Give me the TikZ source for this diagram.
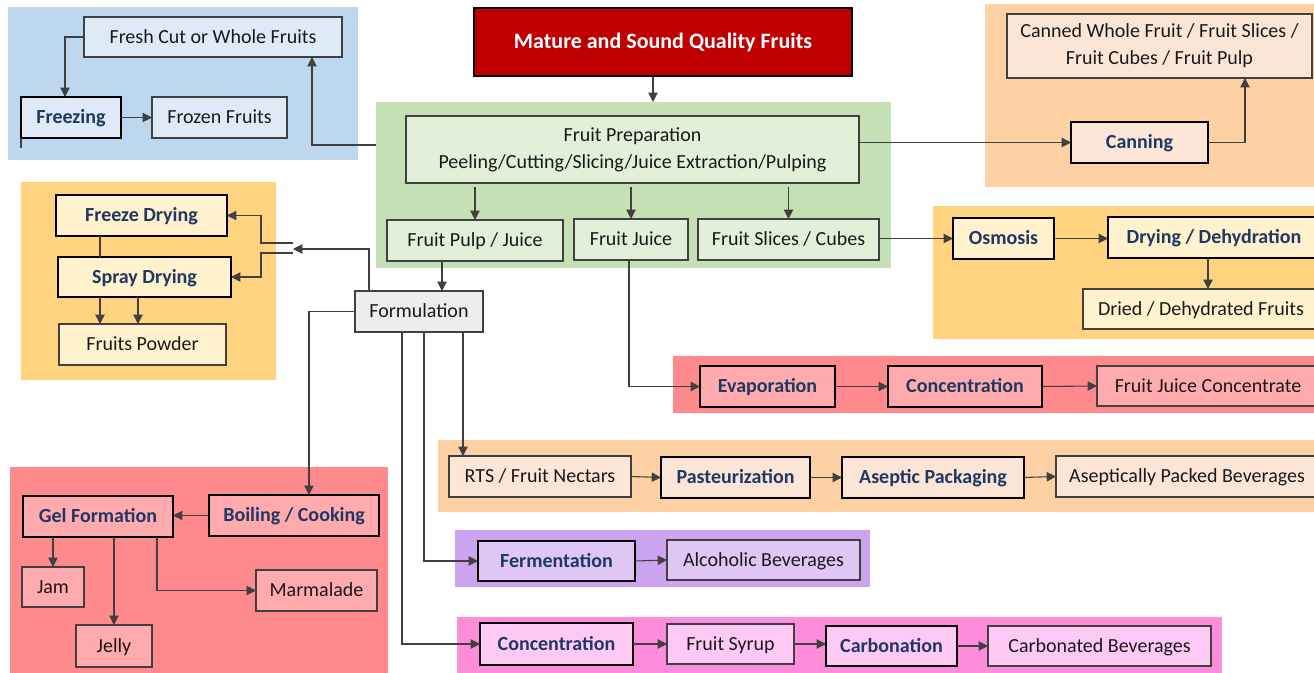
\documentclass[tikz,border=0pt]{standalone}
\usepackage{fontspec}
\setmainfont{Carlito}
\usetikzlibrary{arrows.meta}

% palette
\definecolor{panelBlue}{HTML}{BDD7EE}
\definecolor{boxBlue}{HTML}{DEEBF7}
\definecolor{panelGreen}{HTML}{C5E0B4}
\definecolor{boxGreen}{HTML}{E2F0D9}
\definecolor{panelPeach}{HTML}{FDD1A3}
\definecolor{boxPeach}{HTML}{FBE5D6}
\definecolor{panelGold}{HTML}{FFD37F}
\definecolor{boxGold}{HTML}{FFF2CC}
\definecolor{panelRed}{HTML}{FF8A8D}
\definecolor{boxRed}{HTML}{FFABAD}
\definecolor{panelPurple}{HTML}{CCA3EE}
\definecolor{boxPurple}{HTML}{DFC6F5}
\definecolor{panelPink}{HTML}{FF8CDB}
\definecolor{boxPink}{HTML}{FFC9F5}
\definecolor{boxGrey}{HTML}{EDEDED}
\definecolor{navy}{HTML}{1F3864}
\definecolor{darkRed}{HTML}{C00000}
\definecolor{lineGrey}{HTML}{404040}

\tikzset{
  % a rectangle given by its corners (x1,y1) and (x2,y2), in drawing units
  span/.style n args={4}{
    at={({(#1+#3)/2},{(#2+#4)/2})},
    minimum width={(#3-#1)*0.75pt},
    minimum height={(#4-#2)*0.75pt}},
  panel/.style={rectangle, fill=#1, draw=none, inner sep=0pt, outer sep=0pt},
  oneline/.style={text height=12pt, text depth=2.3pt},
  plain/.style={rectangle, fill=#1, draw=lineGrey, line width=0.8pt, inner sep=0pt, outer sep=0pt,
    align=center, text=black!90, font=\fontsize{15}{20}\selectfont, oneline},
  twoline/.style={plain=#1, text height={}, text depth={}},
  stage/.style={rectangle, fill=#1, draw=black, line width=1.5pt, inner sep=0pt, outer sep=0pt,
    align=center, text=navy, font=\fontsize{15}{20}\selectfont\bfseries, oneline},
  flow/.style={draw=lineGrey, line width=0.8pt, -{Triangle[length=7pt,width=7pt]}},
  link/.style={draw=lineGrey, line width=0.8pt},
}

\begin{document}
\begin{tikzpicture}[x=0.75pt,y=-0.75pt]
\useasboundingbox (0,0) rectangle (1314,673);
\clip (0,0) rectangle (1314,673);

% ---------- coloured group panels ----------
\node[panel=panelBlue,   span={8}{7}{358}{160}]     (pBlue) {};
\node[panel=panelGreen,  span={376}{102}{891}{268}] (pGreen) {};
\node[panel=panelPeach,  span={985}{4}{1320}{187}]  (pPeachTop) {};
\node[panel=panelGold,   span={21}{182}{276}{380}]  (pGoldL) {};
\node[panel=panelGold,   span={933}{206}{1320}{339}] (pGoldR) {};
\node[panel=panelRed,    span={673}{356}{1320}{413}] (pRedR) {};
\node[panel=panelRed,    span={10}{467}{388}{680}]  (pRedL) {};
\node[panel=panelPeach,  span={438}{440}{1320}{512}] (pPeachB) {};
\node[panel=panelPurple, span={455}{530}{870}{587}] (pPurple) {};
\node[panel=panelPink,   span={457}{617}{1222}{680}] (pPink) {};

% ---------- raw material and preparation ----------
\node[rectangle, fill=darkRed, draw=black, line width=2.2pt, inner sep=0pt, text=white,
      font=\fontsize{16.5}{20}\selectfont\bfseries, text height=13pt, text depth=2.5pt,
      span={474}{8}{852}{76}] (mature)
      {Mature and Sound Quality Fruits};
\node[twoline=boxGreen, span={406}{116}{859}{183}] (prep)
      {Fruit Preparation\\Peeling/Cutting/Slicing/Juice Extraction/Pulping};
\node[plain=boxGreen, span={387}{220}{563}{261}] (pulp)   {Fruit Pulp / Juice};
\node[plain=boxGreen, span={574}{219}{688}{260}] (juice)  {Fruit Juice};
\node[plain=boxGreen, span={698}{219}{879}{260}] (slices) {Fruit Slices / Cubes};
\node[plain=boxGrey,  span={355}{291}{483}{332}] (formul) {Formulation};

% ---------- fresh / frozen ----------
\node[plain=boxBlue, span={84}{17}{342}{57}]   (fresh)    {Fresh Cut or Whole Fruits};
\node[stage=boxBlue, span={21}{97}{121}{138}]  (freezing) {Freezing};
\node[plain=boxBlue, span={152}{97}{287}{138}] (frozen)   {Frozen Fruits};

% ---------- canning ----------
\node[twoline=boxPeach, span={1007}{14}{1312}{78}] (canned)
      {Canned Whole Fruit / Fruit Slices /\\ Fruit Cubes / Fruit Pulp};
\node[stage=boxPeach, span={1071}{122}{1208}{163}] (canning) {Canning};

% ---------- powders ----------
\node[stage=boxGold, span={56}{195}{227}{236}] (fdry)   {Freeze Drying};
\node[stage=boxGold, span={58}{257}{231}{297}] (sdry)   {Spray Drying};
\node[plain=boxGold, span={59}{324}{226}{365}] (powder) {Fruits Powder};

% ---------- dehydration ----------
\node[stage=boxGold, span={953}{218}{1054}{259}]  (osmosis) {Osmosis};
\node[stage=boxGold, span={1108}{217}{1320}{258}] (dehyd)   {Drying / Dehydration};
\node[plain=boxGold, span={1083}{289}{1319}{329}] (dried)   {Dried / Dehydrated Fruits};

% ---------- juice concentrate ----------
\node[stage=boxRed, span={700}{366}{835}{407}]   (evap)  {Evaporation};
\node[stage=boxRed, span={888}{366}{1042}{407}]  (concR) {Concentration};
\node[plain=boxRed, span={1097}{366}{1319}{406}] (fjc)   {Fruit Juice Concentrate};

% ---------- beverages ----------
\node[plain=boxPeach, span={449}{456}{631}{497}]   (rts)  {RTS / Fruit Nectars};
\node[stage=boxPeach, span={661}{457}{810}{498}]   (past) {Pasteurization};
\node[stage=boxPeach, span={842}{457}{1024}{498}]  (asep) {Aseptic Packaging};
\node[plain=boxPeach, span={1056}{456}{1318}{497}] (apb)  {Aseptically Packed Beverages};

\node[stage=boxPurple, span={478}{541}{635}{581}] (ferm) {Fermentation};
\node[plain=boxPurple, span={667}{540}{860}{580}] (alco) {Alcoholic Beverages};

\node[stage=boxPink, span={480}{623}{633}{665}]  (concP)   {Concentration};
\node[plain=boxPink, span={667}{624}{794}{664}]  (syrup)   {Fruit Syrup};
\node[stage=boxPink, span={826}{626}{957}{666}]  (carb)    {Carbonation};
\node[plain=boxPink, span={988}{626}{1211}{666}] (carbbev) {Carbonated Beverages};

% ---------- gel products ----------
\node[stage=boxRed, span={23}{496}{173}{537}]  (gel)   {Gel Formation};
\node[stage=boxRed, span={209}{495}{379}{536}] (boil)  {Boiling / Cooking};
\node[plain=boxRed, span={22}{567}{84}{607}]   (jam)   {Jam};
\node[plain=boxRed, span={256}{570}{377}{611}] (marm)  {Marmalade};
\node[plain=boxRed, span={76}{625}{152}{667}]  (jelly) {Jelly};

% ---------- bend points ----------
\coordinate (mIn)   at (653,0);
\coordinate (prepOut) at (376,145);
\coordinate (freshIn) at (312,57);
\coordinate (frzIn) at (65,97);
\coordinate (canUp) at (1245,78);
\coordinate (pf)    at (442,0);
\coordinate (fu)    at (369,0);
\coordinate (brk)   at (293,249);
\coordinate (brkA)  at (293,243);
\coordinate (brkB)  at (293,253);
\coordinate (jog)   at (261,0);
\coordinate (pw1)   at (100,0);
\coordinate (pw2)   at (138,0);
\coordinate (bx)    at (309,0);
\coordinate (fx1)   at (402,0);
\coordinate (fx2)   at (424,0);
\coordinate (fx3)   at (463,0);
\coordinate (jx)    at (629,0);
\coordinate (dx)    at (1208,0);
\coordinate (gx)    at (157,0);

% ---------- connectors ----------
\draw[flow] (mature.south -| mIn) -- (pGreen.north -| mIn);
\draw[flow, shorten <=3pt] (prep.south -| pulp.north) -- (pulp.north);
\draw[flow, shorten <=3pt] (prep.south -| juice.north) -- (juice.north);
\draw[flow, shorten <=3pt] (prep.south -| slices.north) -- (slices.north);

\draw[flow] (prepOut) -| (freshIn);
\draw[flow] (fresh.west) -| (frzIn);
\draw[flow] (freezing.east) -- (frozen.west);
\draw[link] (freezing.south west) -- ++(0,10);

\draw[flow] (prep.east |- canning.west) -- (canning.west);
\draw[flow] (canning.east) -| (canUp);

\draw[flow] (pulp.south -| pf) -- (formul.north -| pf);
\draw[flow] (formul.north -| fu) |- (brk);
\draw[flow] (brkA) -- (brkA -| jog) |- (fdry.east);
\draw[flow] (brkB) -- (brkB -| jog) |- (sdry.east);
\draw[link] (fdry.south -| pw1) -- (sdry.north -| pw1);
\draw[flow] (sdry.south -| pw1) -- (powder.north -| pw1);
\draw[flow] (sdry.south -| pw2) -- (powder.north -| pw2);

\draw[flow] (osmosis.west -| slices.east) -- (osmosis.west);
\draw[flow] (osmosis.east) -- (osmosis.east -| dehyd.west);
\draw[flow] (dehyd.south -| dx) -- (dried.north -| dx);

\draw[flow] (juice.south -| jx) |- (evap.west);
\draw[flow] (evap.east) -- (concR.west);
\draw[flow] (concR.east) -- (fjc.west);

\draw[flow] (formul.south -| fx3) -- (rts.north -| fx3);
\draw[flow] (rts.east) -- (past.west);
\draw[flow] (past.east) -- (asep.west);
\draw[flow] (asep.east) -- (apb.west);

\draw[flow] (formul.south -| fx2) |- (ferm.west);
\draw[flow] (ferm.east) -- (alco.west);

\draw[flow] (formul.south -| fx1) |- (concP.west);
\draw[flow] (concP.east) -- (syrup.west);
\draw[flow] (syrup.east) -- (syrup.east -| carb.west);
\draw[flow] (carb.east) -- (carbbev.west);

\draw[flow] (formul.west) -| (boil.north -| bx);
\draw[flow] (boil.west) -- (boil.west -| gel.east);
\draw[flow] (gel.south -| jam.north) -- (jam.north);
\draw[flow] (gel.south -| jelly.north) -- (jelly.north);
\draw[flow] (gel.south -| gx) |- (marm.west);
\end{tikzpicture}
\end{document}
